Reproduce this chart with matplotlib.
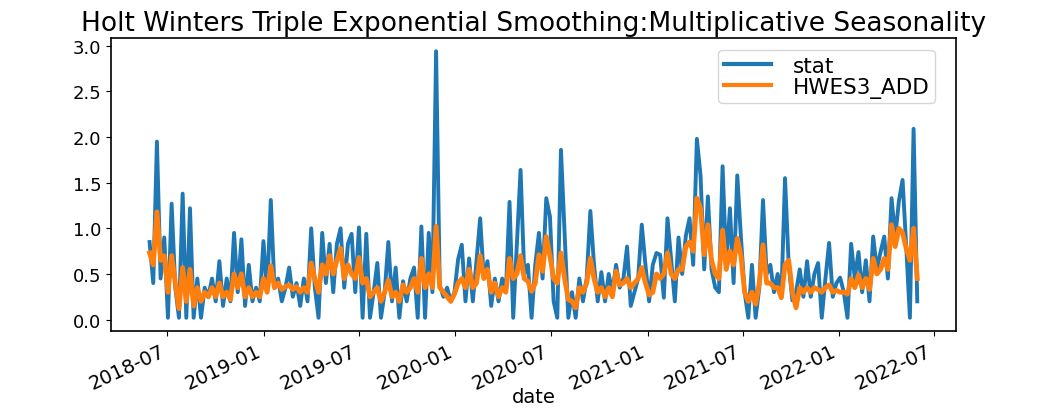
import pandas as pd
import numpy as np
import matplotlib.pyplot as plt
import matplotlib.dates as mdates


# -------------------------
# DATA (weekly readings)
# -------------------------
start_date = "2018-05-28"

stat = [
    0.85, 0.40, 1.95, 0.45, 0.90, 0.02, 1.27, 0.35, 0.02, 1.38,
    0.02, 1.22, 0.02, 0.45, 0.02, 0.35, 0.25, 0.45, 0.20, 0.64,
    0.15, 0.45, 0.20, 0.95, 0.30, 0.88, 0.15, 0.60, 0.20, 0.35,
    0.20, 0.86, 0.30, 1.31, 0.35, 0.45, 0.20, 0.35, 0.57, 0.25,
    0.40, 0.15, 0.45, 0.20, 1.00, 0.35, 0.02, 0.95, 0.40, 0.83,
    0.30, 0.83, 1.00, 0.35, 0.83, 0.94, 0.30, 1.01, 0.02, 0.94,
    0.02, 0.30, 0.62, 0.02, 0.30, 0.85, 0.20, 0.57, 0.02, 0.42,
    0.20, 0.45, 0.57, 0.02, 1.02, 0.02, 0.95, 0.30, 2.94, 0.38,
    0.25, 0.35, 0.20, 0.30, 0.66, 0.82, 0.20, 0.67, 0.20, 0.64,
    1.11, 0.45, 0.64, 0.15, 0.45, 0.20, 0.45, 0.30, 1.29, 0.02,
    0.82, 1.64, 0.50, 0.60, 0.02, 0.60, 0.95, 0.45, 1.33, 1.13,
    0.20, 0.02, 1.86, 0.95, 0.02, 0.30, 0.02, 0.45, 0.20, 0.45,
    1.19, 0.60, 0.20, 0.52, 0.20, 0.50, 0.30, 0.60, 0.35, 0.45,
    0.80, 0.15, 0.30, 0.45, 1.04, 0.60, 0.20, 0.60, 0.73, 0.71,
    0.24, 1.11, 0.65, 0.20, 0.90, 0.50, 0.92, 1.11, 0.60, 1.98,
    1.58, 0.55, 1.35, 0.55, 0.35, 0.30, 1.68, 0.60, 1.22, 0.40,
    1.58, 0.90, 0.30, 0.02, 0.60, 0.02, 0.35, 1.31, 0.50, 0.60,
    0.30, 0.50, 0.25, 1.55, 0.60, 0.21, 0.30, 0.55, 0.25, 0.64,
    0.25, 0.50, 0.62, 0.02, 0.45, 0.84, 0.25, 0.40, 0.46, 0.30,
    0.02, 0.83, 0.45, 0.74, 0.30, 0.65, 0.20, 0.91, 0.55, 0.74,
    0.91, 0.45, 1.33, 0.90, 1.30, 1.53, 0.80, 0.02, 2.09, 0.20,
]

hwes3_add = [
    0.73, 0.60, 1.18, 0.65, 0.70, 0.30, 0.70, 0.40, 0.12, 0.57,
    0.20, 0.55, 0.15, 0.35, 0.20, 0.30, 0.25, 0.35, 0.25, 0.40,
    0.25, 0.30, 0.22, 0.50, 0.35, 0.50, 0.25, 0.35, 0.25, 0.30,
    0.25, 0.45, 0.30, 0.59, 0.35, 0.40, 0.33, 0.36, 0.38, 0.33,
    0.36, 0.30, 0.35, 0.30, 0.62, 0.45, 0.30, 0.60, 0.50, 0.70,
    0.50, 0.65, 0.78, 0.45, 0.60, 0.50, 0.45, 0.68, 0.40, 0.45,
    0.25, 0.30, 0.35, 0.20, 0.30, 0.43, 0.25, 0.30, 0.20, 0.38,
    0.30, 0.35, 0.45, 0.30, 0.67, 0.35, 0.50, 0.35, 1.02, 0.35,
    0.30, 0.25, 0.20, 0.28, 0.40, 0.45, 0.35, 0.55, 0.35, 0.40,
    0.70, 0.45, 0.55, 0.30, 0.40, 0.25, 0.35, 0.30, 0.67, 0.45,
    0.50, 0.70, 0.45, 0.42, 0.31, 0.40, 0.71, 0.53, 0.91, 0.70,
    0.45, 0.40, 0.73, 0.45, 0.22, 0.20, 0.13, 0.35, 0.30, 0.40,
    0.67, 0.45, 0.30, 0.35, 0.25, 0.35, 0.25, 0.53, 0.38, 0.40,
    0.45, 0.35, 0.40, 0.45, 0.57, 0.40, 0.27, 0.30, 0.50, 0.45,
    0.50, 0.73, 0.50, 0.45, 0.55, 0.55, 0.80, 0.85, 0.75, 1.33,
    1.22, 0.71, 1.04, 0.65, 0.50, 0.45, 0.98, 0.55, 0.75, 0.60,
    0.89, 0.70, 0.30, 0.20, 0.30, 0.17, 0.40, 0.82, 0.40, 0.40,
    0.35, 0.35, 0.24, 0.60, 0.65, 0.30, 0.13, 0.35, 0.30, 0.35,
    0.30, 0.35, 0.33, 0.30, 0.35, 0.38, 0.30, 0.32, 0.30, 0.30,
    0.28, 0.45, 0.35, 0.49, 0.35, 0.45, 0.33, 0.67, 0.50, 0.55,
    0.67, 0.55, 1.04, 0.80, 1.00, 0.95, 0.78, 0.65, 1.00, 0.45,
]

dates = pd.date_range(start_date, periods=len(stat), freq="7D")
df = pd.DataFrame({"stat": stat, "HWES3_ADD": hwes3_add}, index=dates)
df.index.name = "date"


# -------------------------
# PLOT
# -------------------------
fig = plt.figure(figsize=(10.49, 4.10), dpi=100)
ax = fig.add_axes([0.106, 0.19, 0.805, 0.715])

ax.plot(df.index, df["stat"], color="#1f77b4", linewidth=2.8, label="stat")
ax.plot(df.index, df["HWES3_ADD"], color="#ff7f0e", linewidth=3.5, label="HWES3_ADD")

ax.xaxis.set_major_locator(mdates.MonthLocator(bymonth=[1, 7]))
ax.xaxis.set_major_formatter(mdates.DateFormatter("%Y-%m"))
for lbl in ax.get_xticklabels():
    lbl.set_rotation(25)
    lbl.set_ha("right")
    lbl.set_fontsize(14)

ax.set_yticks([0.0, 0.5, 1.0, 1.5, 2.0, 2.5, 3.0])
ax.tick_params(axis="y", labelsize=13)
ax.set_xlabel("date", fontsize=14, labelpad=-4)
ax.set_title("Holt Winters Triple Exponential Smoothing:Multiplicative Seasonality",
             fontsize=19, pad=6)

leg = ax.legend(loc="upper right", fontsize=15.5, handlelength=2.2,
                handletextpad=1.0, labelspacing=0.05, borderpad=0.25,
                bbox_to_anchor=(0.988, 0.995))
for line in leg.get_lines():
    line.set_linewidth(3)

for sp in ax.spines.values():
    sp.set_linewidth(1.2)

fig.savefig("out.png", dpi=100)
